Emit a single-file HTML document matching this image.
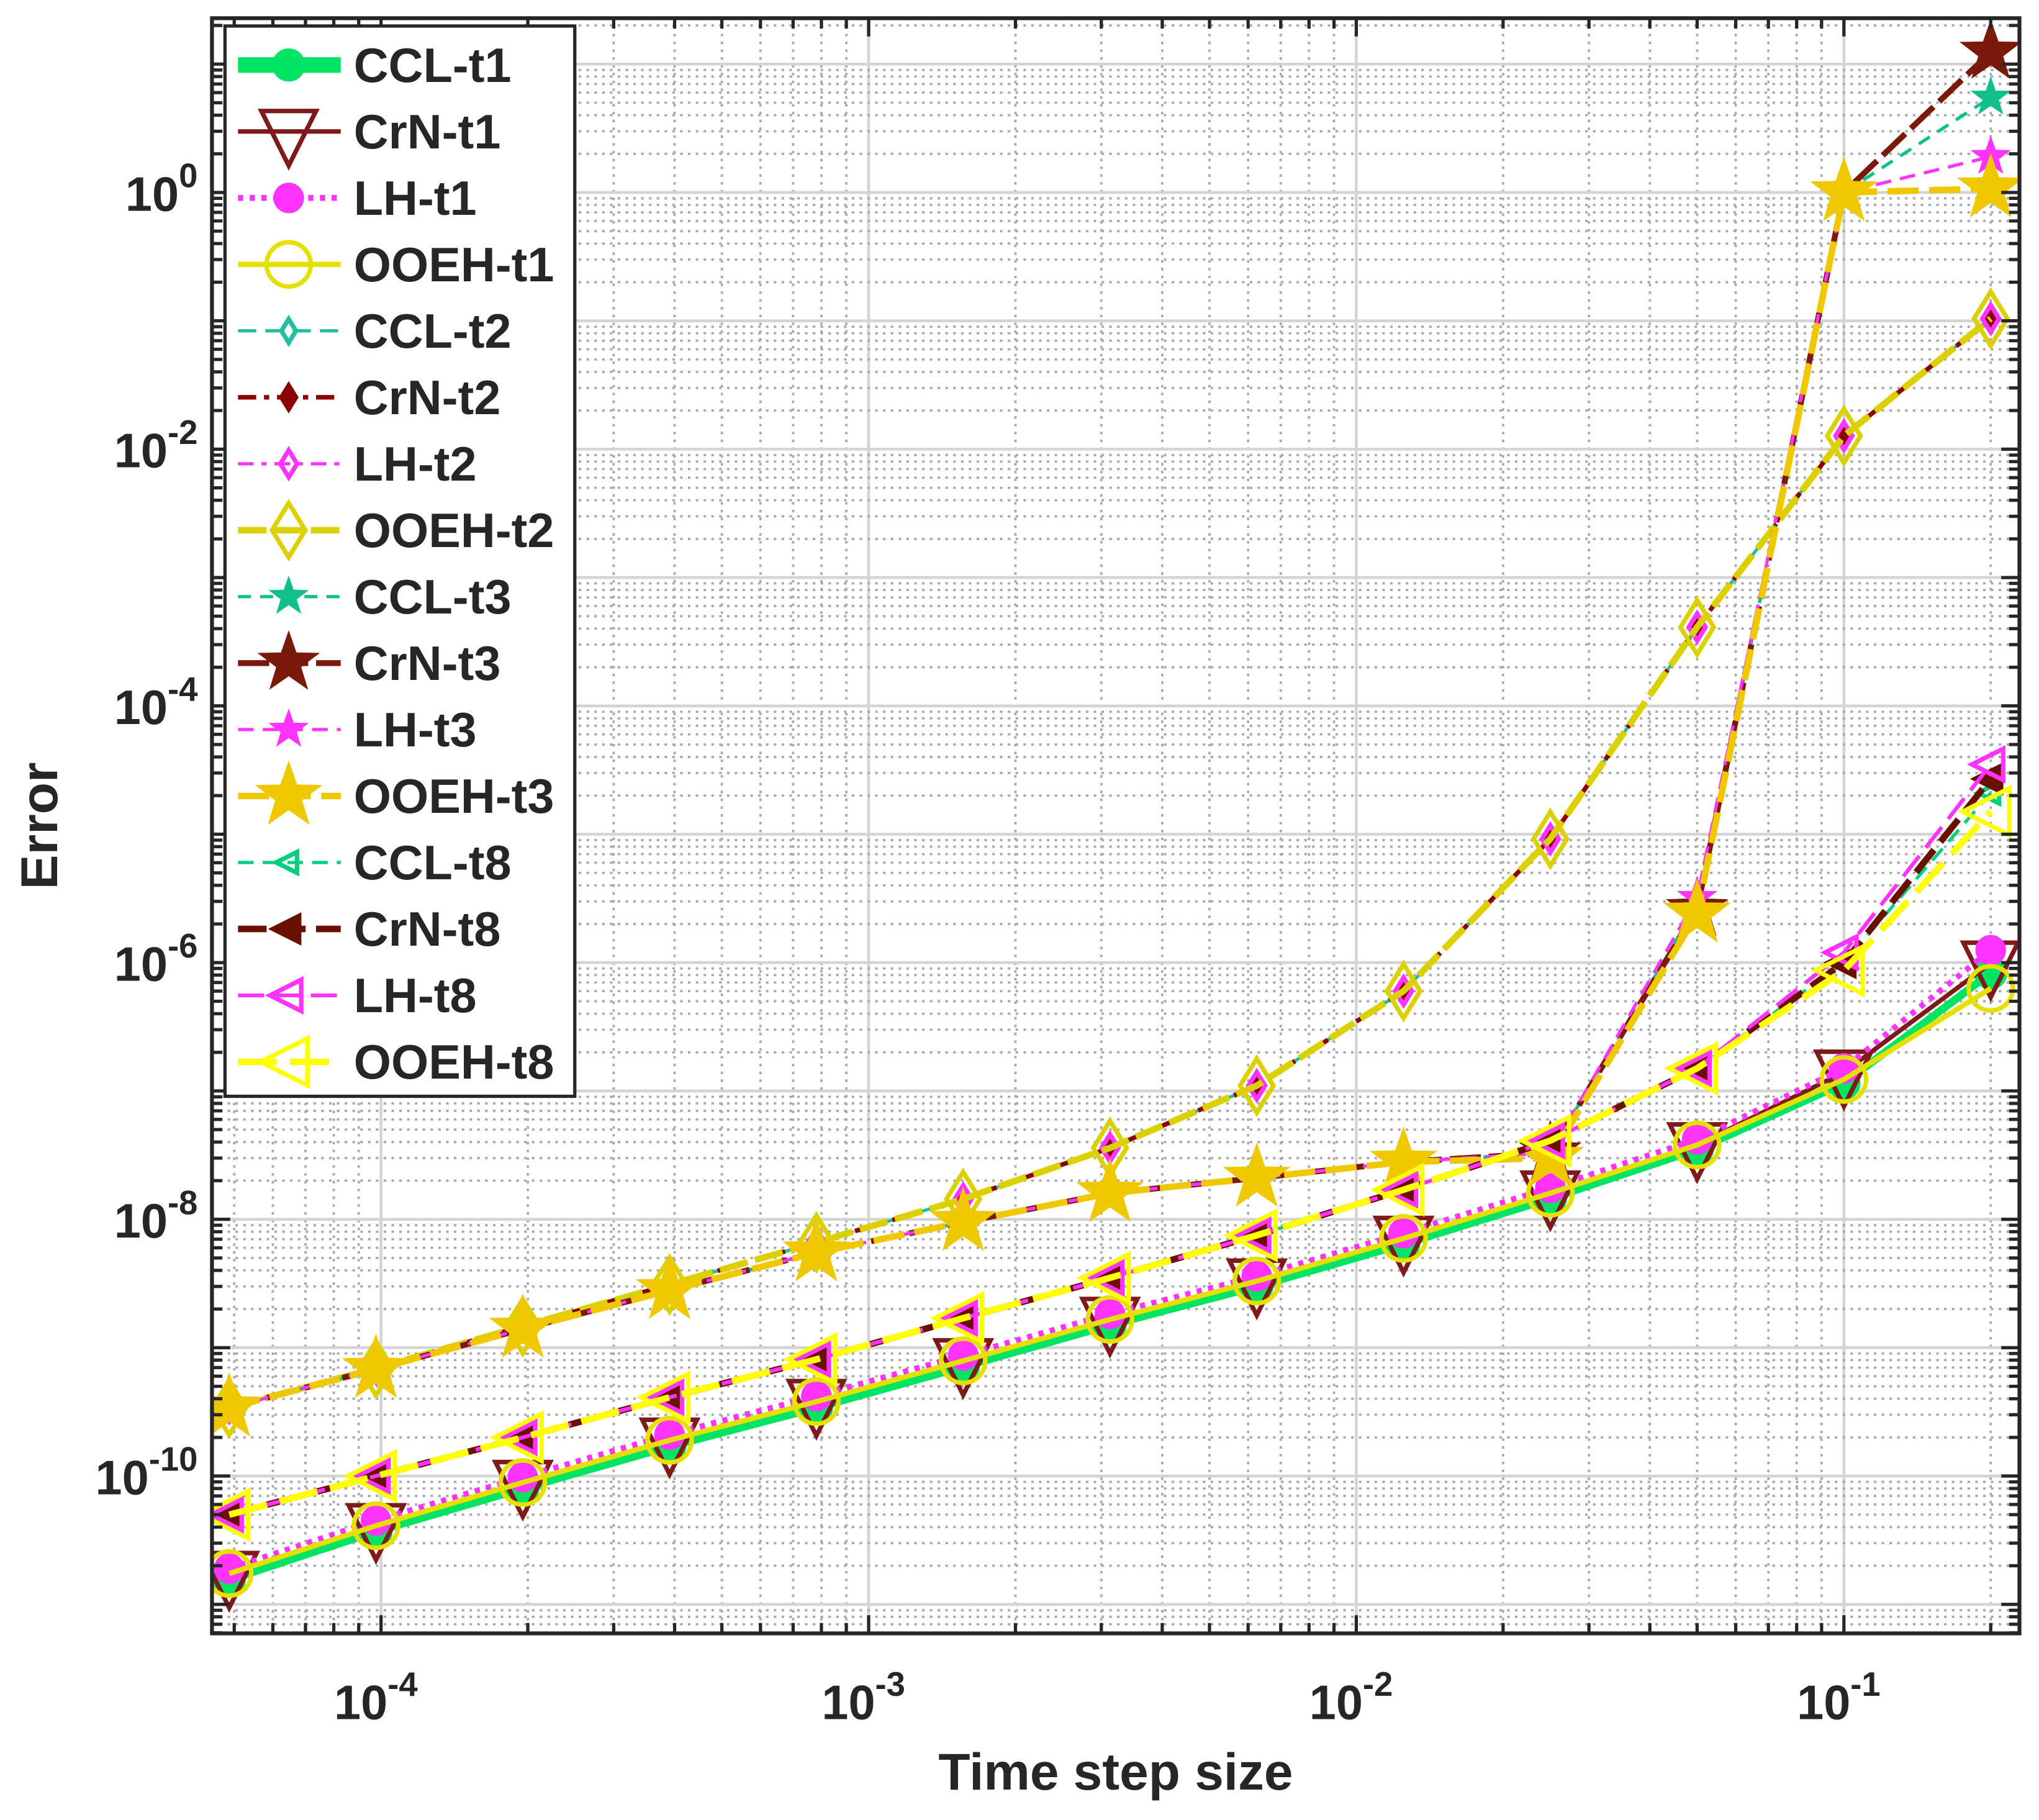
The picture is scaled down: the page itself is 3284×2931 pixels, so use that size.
<!DOCTYPE html>
<html><head><meta charset="utf-8"><style>
html,body{margin:0;padding:0;background:#fff;}
svg{display:block;}
text{font-family:"Liberation Sans",Arial,sans-serif;font-weight:bold;fill:#262626;}
</style></head><body>
<svg id="chart" width="3284" height="2931" viewBox="0 0 1568 1399.5" xmlns="http://www.w3.org/2000/svg">
<defs><clipPath id="plotclip"><rect x="163" y="14" width="1390" height="1242"/></clipPath></defs>
<rect x="0" y="0" width="1568" height="1400" fill="#fff"/>
<g id="grid"></g>
<g id="series" clip-path="url(#plotclip)"></g>
<rect x="163" y="14" width="1390" height="1242" fill="none" stroke="#262626" stroke-width="3"/>
<g id="ticks"></g>
<text x="858" y="1376" font-size="40" text-anchor="middle">Time step size</text>
<text x="0" y="0" font-size="40" text-anchor="middle" transform="translate(44,635) rotate(-90)">Error</text>
<g id="legend"></g>
</svg>
<script>
const xValues = [4.8828e-5, 9.7656e-5, 1.9531e-4, 3.9063e-4, 7.8125e-4, 1.5625e-3, 3.125e-3, 6.25e-3, 0.0125, 0.025, 0.05, 0.1, 0.2];
const cclT1 = [1.55e-11, 3.7e-11, 8.0e-11, 1.7e-10, 3.4e-10, 7.1e-10, 1.5e-9, 3.0e-9, 6.4e-9, 1.45e-8, 3.5e-8, 1.15e-7, 8.3e-7];
const crnT1 = [1.74e-11, 4.1e-11, 8.9e-11, 1.9e-10, 3.8e-10, 7.9e-10, 1.66e-9, 3.3e-9, 7.1e-9, 1.6e-8, 3.8e-8, 1.4e-7, 9.9e-7];
const lhT1 = [1.9e-11, 4.5e-11, 9.8e-11, 2.1e-10, 4.2e-10, 8.7e-10, 1.83e-9, 3.6e-9, 7.8e-9, 1.76e-8, 4.2e-8, 1.5e-7, 1.25e-6];
const ooehT1 = [1.74e-11, 4.1e-11, 8.9e-11, 1.9e-10, 3.8e-10, 7.9e-10, 1.66e-9, 3.3e-9, 7.1e-9, 1.6e-8, 3.8e-8, 1.23e-7, 6.3e-7];
const t2Base = [3.4e-10, 6.9e-10, 1.47e-9, 3.1e-9, 6.6e-9, 1.44e-8, 3.6e-8, 1.1e-7, 6.0e-7, 9.2e-6, 4.1e-4, 1.27e-2, 0.104];
const cclT2 = t2Base, crnT2 = t2Base, lhT2 = t2Base, ooehT2 = t2Base;
const cclT3 = [3.4e-10, 6.8e-10, 1.4e-9, 2.8e-9, 5.5e-9, 9.5e-9, 1.6e-8, 2.1e-8, 2.8e-8, 3.3e-8, 2.8e-6, 1.0, 5.5];
const crnT3 = [3.4e-10, 6.8e-10, 1.4e-9, 2.8e-9, 5.5e-9, 9.5e-9, 1.6e-8, 2.1e-8, 2.8e-8, 3.3e-8, 2.6e-6, 1.0, 12.4];
const lhT3 = [3.4e-10, 6.8e-10, 1.4e-9, 2.8e-9, 5.5e-9, 9.5e-9, 1.6e-8, 2.1e-8, 2.8e-8, 3.3e-8, 3.2e-6, 1.0, 1.9];
const ooehT3 = [3.4e-10, 6.8e-10, 1.4e-9, 2.8e-9, 5.5e-9, 9.5e-9, 1.6e-8, 2.1e-8, 2.8e-8, 3.0e-8, 2.4e-6, 1.0, 1.07];
const cclT8 = [5.0e-11, 1.0e-10, 2.0e-10, 4.1e-10, 8.1e-10, 1.7e-9, 3.5e-9, 7.5e-9, 1.7e-8, 4.1e-8, 1.5e-7, 1.0e-6, 2.1e-5];
const crnT8 = [5.0e-11, 1.0e-10, 2.0e-10, 4.1e-10, 8.1e-10, 1.7e-9, 3.5e-9, 7.5e-9, 1.7e-8, 4.1e-8, 1.5e-7, 1.0e-6, 2.7e-5];
const lhT8 = [5.0e-11, 1.0e-10, 2.0e-10, 4.1e-10, 8.1e-10, 1.7e-9, 3.5e-9, 7.5e-9, 1.7e-8, 4.1e-8, 1.5e-7, 1.2e-6, 3.5e-5];
const ooehT8 = [5.0e-11, 1.0e-10, 2.0e-10, 4.1e-10, 8.1e-10, 1.7e-9, 3.5e-9, 7.5e-9, 1.7e-8, 4.1e-8, 1.5e-7, 8.7e-7, 1.5e-5];
const xTickExps = [-4, -3, -2, -1];
const yTickExps = [0, -2, -4, -6, -8, -10];

const NS = 'http://www.w3.org/2000/svg';
const X0 = 163, X1 = 1553, Y0 = 14, Y1 = 1256;
function xs(v){ return 293 + (Math.log10(v) + 4) * 375; }
function ys(v){ return 148 - Math.log10(v) * 98.7; }
function mk(tag, attrs, parent){
  const e = document.createElementNS(NS, tag);
  for (const k in attrs) e.setAttribute(k, attrs[k]);
  parent.appendChild(e); return e;
}

const grid = document.getElementById('grid');
const ticks = document.getElementById('ticks');
for (let d = -5; d <= 0; d++) {
  for (let k = 1; k <= 9; k++) {
    const v = k * Math.pow(10, d); const x = xs(v);
    if (x <= X0 || x >= X1) continue;
    const g = mk('line', {x1:x, x2:x, y1:Y0, y2:Y1, stroke: k===1?'#d4d4d4':'#aaaaaa', 'stroke-width': k===1?2.2:1.8, 'stroke-dasharray': k===1?'':'2 4'}, grid);
    
    
    const L = k===1?14:8;
    const t1 = mk('line', {x1:x, x2:x, y1:Y1, y2:Y1-L, stroke:'#262626', 'stroke-width':2.5}, ticks);
    
    
    const t2 = mk('line', {x1:x, x2:x, y1:Y0, y2:Y0+L, stroke:'#262626', 'stroke-width':2.5}, ticks);
    
    
  }
}
for (let d = -12; d <= 1; d++) {
  for (let k = 1; k <= 9; k++) {
    const v = k * Math.pow(10, d); const y = ys(v);
    if (y <= Y0 || y >= Y1) continue;
    const g = mk('line', {x1:X0, x2:X1, y1:y, y2:y, stroke: k===1?'#d4d4d4':'#aaaaaa', 'stroke-width': k===1?2.2:1.8, 'stroke-dasharray': k===1?'':'2 4'}, grid);
    
    
    const L = k===1?14:8;
    const t1 = mk('line', {x1:X0, x2:X0+L, y1:y, y2:y, stroke:'#262626', 'stroke-width':2.5}, ticks);
    
    
    const t2 = mk('line', {x1:X1, x2:X1-L, y1:y, y2:y, stroke:'#262626', 'stroke-width':2.5}, ticks);
    
    
  }
}
const svg = document.getElementById('chart');
xTickExps.forEach(e => {
  const x = xs(Math.pow(10, e));
  const t = mk('text', {x: x - 4, y: 1322, 'font-size': 37, 'text-anchor': 'middle'}, svg);
  
  
  t.textContent = '10';
  const s = mk('tspan', {dy: -18, 'font-size': 26}, t); s.textContent = String(e);
});
yTickExps.forEach(e => {
  const y = ys(Math.pow(10, e));
  const t = mk('text', {x: 152, y: y + 14, 'font-size': 37, 'text-anchor': 'end'}, svg);
  
  
  t.textContent = '10';
  const s = mk('tspan', {dy: -18, 'font-size': 26}, t); s.textContent = String(e);
});

function starPts(cx, cy, r){
  let p = [];
  for (let i = 0; i < 10; i++) {
    const a = -Math.PI/2 + i * Math.PI/5; const rr = i%2===0 ? r : r*0.4;
    p.push((cx + rr*Math.cos(a)).toFixed(1) + ',' + (cy + rr*Math.sin(a)).toFixed(1));
  }
  return p.join(' ');
}
function marker(g, type, cx, cy, r, color, filled, sw){
  const fill = filled ? color : 'none';
  let e;
  if (type === 'circle') e = mk('circle', {cx, cy, r, fill, stroke: color, 'stroke-width': sw}, g);
  else if (type === 'tridown') e = mk('polygon', {points: `${cx-r},${cy-r*0.75} ${cx+r},${cy-r*0.75} ${cx},${cy+r*1.25}`, fill, stroke: color, 'stroke-width': sw}, g);
  else if (type === 'trileft') e = mk('polygon', {points: `${cx-r*1.2},${cy} ${cx+r*0.8},${cy-r} ${cx+r*0.8},${cy+r}`, fill, stroke: color, 'stroke-width': sw}, g);
  else if (type === 'diamond') e = mk('polygon', {points: `${cx},${cy-r*1.3} ${cx+r*0.8},${cy} ${cx},${cy+r*1.3} ${cx-r*0.8},${cy}`, fill, stroke: color, 'stroke-width': sw}, g);
  else e = mk('polygon', {points: starPts(cx, cy, r), fill, stroke: color, 'stroke-width': sw}, g);
  return e;
}

const seriesDefs = [
  {name:'CCL-t1', data:cclT1, color:'#00e464', dash:'', w:6, m:'circle', r:11, f:true},
  {name:'CrN-t1', data:crnT1, color:'#7f1a1a', dash:'', w:3.5, m:'tridown', r:21, f:false},
  {name:'LH-t1', data:lhT1, color:'#ff33ff', dash:'4 5', w:4.5, m:'circle', r:10, f:true},
  {name:'OOEH-t1', data:ooehT1, color:'#e6e000', dash:'', w:4, m:'circle', r:17, f:false},
  {name:'CCL-t2', data:cclT2, color:'#20c0a0', dash:'14 7', w:2.5, m:'diamond', r:7, f:false},
  {name:'CrN-t2', data:crnT2, color:'#8b0000', dash:'14 6 4 6', w:3.5, m:'diamond', r:7, f:true},
  {name:'LH-t2', data:lhT2, color:'#ff33ff', dash:'12 6 4 6', w:2.5, m:'diamond', r:8, f:false},
  {name:'OOEH-t2', data:ooehT2, color:'#dcd000', dash:'22 6', w:5, m:'diamond', r:16, f:false},
  {name:'CCL-t3', data:cclT3, color:'#10c08c', dash:'10 7', w:2.5, m:'star', r:11, f:true},
  {name:'CrN-t3', data:crnT3, color:'#7a1a0a', dash:'24 6', w:4.5, m:'star', r:20, f:true},
  {name:'LH-t3', data:lhT3, color:'#ff33ff', dash:'12 7', w:2.5, m:'star', r:11, f:true},
  {name:'OOEH-t3', data:ooehT3, color:'#f0c800', dash:'24 8', w:5, m:'star', r:22, f:true},
  {name:'CCL-t8', data:cclT8, color:'#00d080', dash:'12 7', w:2.5, m:'trileft', r:8, f:false},
  {name:'CrN-t8', data:crnT8, color:'#6a1000', dash:'22 8', w:5, m:'trileft', r:10, f:true},
  {name:'LH-t8', data:lhT8, color:'#ff33ff', dash:'20 8', w:3, m:'trileft', r:12, f:false},
  {name:'OOEH-t8', data:ooehT8, color:'#ffff00', dash:'30 10', w:5, m:'trileft', r:18, f:false}
];
const sg = document.getElementById('series');
seriesDefs.forEach(s => {
  const g = mk('g', {}, sg);
  
  
  const pts = s.data.map((v,i) => xs(xValues[i]).toFixed(1) + ',' + ys(v).toFixed(1)).join(' ');
  const pl = mk('polyline', {points: pts, fill:'none', stroke:s.color, 'stroke-width':s.w, 'stroke-dasharray':s.dash, 'stroke-linejoin':'round'}, g);
  
  
  s.data.forEach((v,i) => {
    const m = marker(g, s.m, xs(xValues[i]), ys(v), s.r, s.color, s.f, 3.5);
    
    
  });
});

const lg = document.getElementById('legend');
const box = mk('rect', {x:173, y:20, width:269, height:823, fill:'#fff', stroke:'#262626', 'stroke-width':2.5}, lg);


seriesDefs.forEach((s, i) => {
  const y = 50 + i * 51.1;
  const g = mk('g', {}, lg);
  
  
  mk('line', {x1:183, x2:262, y1:y, y2:y, stroke:s.color, 'stroke-width':s.w + (i===0?6:0), 'stroke-dasharray':s.dash}, g);
  marker(g, s.m, 222, y, s.r, s.color, s.f, 3.5);
  const t = mk('text', {x:272, y:y + 13, 'font-size':37, fill:'#000'}, g);
  
  
  t.textContent = s.name;
});
</script>
</body></html>
